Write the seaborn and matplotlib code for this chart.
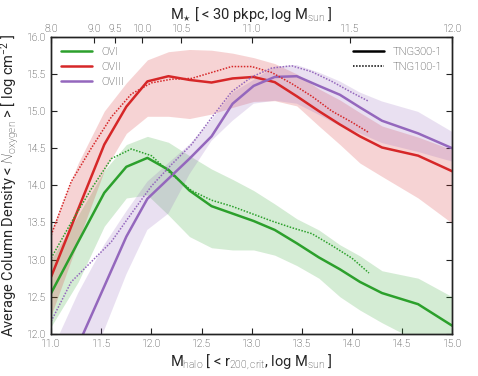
import numpy as np
import pandas as pd
import matplotlib
matplotlib.use("Agg")
import matplotlib.pyplot as plt
import seaborn as sns
from matplotlib.lines import Line2D

# halo mass bins (log Msun)
mhalo_300 = [11.0, 11.27, 11.53, 11.75, 11.96, 12.17, 12.38, 12.6, 12.81, 13.02,
             13.23, 13.45, 13.67, 13.88, 14.08, 14.3, 14.66, 15.0]
mhalo_100 = [11.0, 11.2, 11.4, 11.6, 11.8, 12.0, 12.2, 12.4, 12.6, 12.8,
             13.0, 13.2, 13.4, 13.6, 13.8, 14.0, 14.17]

# TNG300-1 median + band
o6_300 = [12.55, 13.24, 13.90, 14.25, 14.37, 14.21, 13.93, 13.72, 13.62, 13.52,
          13.40, 13.22, 13.03, 12.87, 12.70, 12.55, 12.40, 12.11]
o6_300_hi = [13.0, 13.6, 14.2, 14.55, 14.66, 14.58, 14.40, 14.22, 14.08, 13.93,
             13.75, 13.55, 13.40, 13.2, 13.05, 12.85, 12.75, 12.50]
o6_300_lo = [12.1, 12.7, 13.45, 13.83, 13.87, 13.6, 13.31, 13.16, 13.13, 13.13,
             13.06, 12.92, 12.75, 12.5, 12.32, 12.15, 11.9, 11.6]

o7_300 = [12.77, 13.68, 14.55, 15.06, 15.40, 15.47, 15.42, 15.385, 15.44, 15.46,
          15.39, 15.20, 15.00, 14.82, 14.66, 14.51, 14.40, 14.19]
o7_300_hi = [13.4, 14.3, 15.0, 15.38, 15.69, 15.80, 15.83, 15.82, 15.78, 15.72,
             15.64, 15.5, 15.3, 15.15, 14.98, 14.8, 14.65, 14.48]
o7_300_lo = [12.25, 13.25, 14.2, 14.7, 14.93, 14.93, 14.90, 14.96, 15.05, 15.13,
             15.14, 15.07, 14.80, 14.55, 14.30, 14.12, 13.83, 13.49]

o8_300 = [11.0, 11.85, 12.64, 13.31, 13.82, 14.09, 14.36, 14.66, 15.1, 15.34,
          15.46, 15.47, 15.34, 15.22, 15.05, 14.87, 14.70, 14.50]
o8_300_hi = [11.75, 12.55, 13.2, 13.65, 14.05, 14.3, 14.55, 14.88, 15.25, 15.42,
             15.6, 15.62, 15.52, 15.4, 15.25, 15.13, 14.99, 14.72]
o8_300_lo = [10.4, 11.2, 12.05, 12.8, 13.4, 13.62, 14.15, 14.6, 14.87, 15.1,
             15.14, 15.1, 14.95, 14.8, 14.7, 14.57, 14.45, 14.32]

# TNG100-1 medians
o6_100 = [13.02, 13.5, 13.95, 14.36, 14.49, 14.40, 14.15, 13.93, 13.80, 13.72,
          13.62, 13.52, 13.43, 13.35, 13.19, 13.02, 12.82]
o7_100 = [13.33, 14.05, 14.5, 14.92, 15.23, 15.38, 15.43, 15.44, 15.52, 15.6,
          15.6, 15.52, 15.37, 15.2, 15.0, 14.85, 14.71]
o8_100 = [12.17, 12.7, 12.97, 13.24, 13.62, 13.99, 14.28, 14.55, 14.91, 15.26,
          15.46, 15.58, 15.61, 15.53, 15.4, 15.25, 15.13]

ions = ["OVI", "OVII", "OVIII"]
colors = ["#2ca02c", "#d62728", "#9467bd"]

# top axis: stellar mass labels placed at matching halo mass
mstar_labels = ["8.0", "9.0", "9.5", "10.0", "10.5", "11.0", "11.5", "12.0"]
mstar_at_mhalo = [11.0, 11.43, 11.64, 11.91, 12.30, 13.0, 13.98, 15.0]

sns.set_style("ticks")
plt.rcParams["font.family"] = ["Roboto", "DejaVu Sans"]
plt.rcParams["font.weight"] = "light"
plt.rcParams["mathtext.fontset"] = "custom"
plt.rcParams["mathtext.rm"] = "Roboto:light"
plt.rcParams["mathtext.it"] = "Roboto:italic:light"
plt.rcParams["mathtext.default"] = "regular"
plt.rcParams["xtick.direction"] = "in"
plt.rcParams["ytick.direction"] = "in"

rows = []
for ion, y in zip(ions, [o6_300, o7_300, o8_300]):
    for xi, yi in zip(mhalo_300, y):
        rows.append((ion, "TNG300-1", xi, yi))
for ion, y in zip(ions, [o6_100, o7_100, o8_100]):
    for xi, yi in zip(mhalo_100, y):
        rows.append((ion, "TNG100-1", xi, yi))
df = pd.DataFrame(rows, columns=["ion", "run", "mhalo", "N"])

fig = plt.figure(figsize=(4.78, 3.76), dpi=100)
ax = fig.add_axes([0.107, 0.112, 0.839, 0.79])

bands = [(o6_300_lo, o6_300_hi), (o7_300_lo, o7_300_hi), (o8_300_lo, o8_300_hi)]
for (lo, hi), c in zip(bands, colors):
    ax.fill_between(mhalo_300, lo, hi, color=c, alpha=0.2, lw=0)

palette = dict(zip(ions, colors))
dot = (0, (1, 1))
sns.lineplot(data=df[df.run == "TNG300-1"], x="mhalo", y="N", hue="ion",
             palette=palette, lw=1.8, ax=ax, legend=False, sort=False)
sns.lineplot(data=df[df.run == "TNG100-1"], x="mhalo", y="N", hue="ion",
             palette=palette, lw=1.1, ls=dot, ax=ax, legend=False, sort=False)

ax.set_xlim(11.0, 15.0)
ax.set_ylim(12.0, 16.0)
xt = np.arange(11.0, 15.01, 0.5)
yt = np.arange(12.0, 16.01, 0.5)
ax.set_xticks(xt)
ax.set_yticks(yt)
ax.set_xticklabels([f"{v:.1f}" for v in xt])
ax.set_yticklabels([f"{v:.1f}" for v in yt])
ax.tick_params(labelsize=7.5, labelcolor="#222222", color="#222222", length=4,
               right=True, top=False)
ax.set_xlabel(r"M$_{\rm halo}$ [ < r$_{\rm 200,crit}$, log M$_{\rm sun}$ ]", fontsize=10.5, labelpad=3)
ax.set_ylabel(r"Average Column Density < $\mathit{N}_{\rm oxygen}$ > [ log cm$^{-2}$ ]",
              fontsize=10.5, labelpad=4)

top = ax.twiny()
top.set_xlim(ax.get_xlim())
top.set_xticks(mstar_at_mhalo)
top.set_xticklabels(mstar_labels)
top.tick_params(labelsize=7.5, labelcolor="#222222", color="#222222", length=4, pad=2)
top.set_xlabel(r"M$_{\star}$ [ < 30 pkpc, log M$_{\rm sun}$ ]", fontsize=10.5, labelpad=4)

for a in (ax, top):
    for s in a.spines.values():
        s.set_color("#222222")
        s.set_linewidth(1.0)

h1 = [Line2D([], [], color=c, lw=1.8) for c in colors]
leg1 = ax.legend(h1, ions, loc="upper left", frameon=False, fontsize=8,
                 handlelength=2.8, labelspacing=0.45, borderaxespad=0.5)
ax.add_artist(leg1)
h2 = [Line2D([], [], color="black", lw=1.8),
      Line2D([], [], color="black", lw=1.1, ls=dot)]
ax.legend(h2, ["TNG300-1", "TNG100-1"], loc="upper right", frameon=False, fontsize=8,
          handlelength=2.8, labelspacing=0.45, borderaxespad=0.5)

plt.savefig("out.png", dpi=100)
